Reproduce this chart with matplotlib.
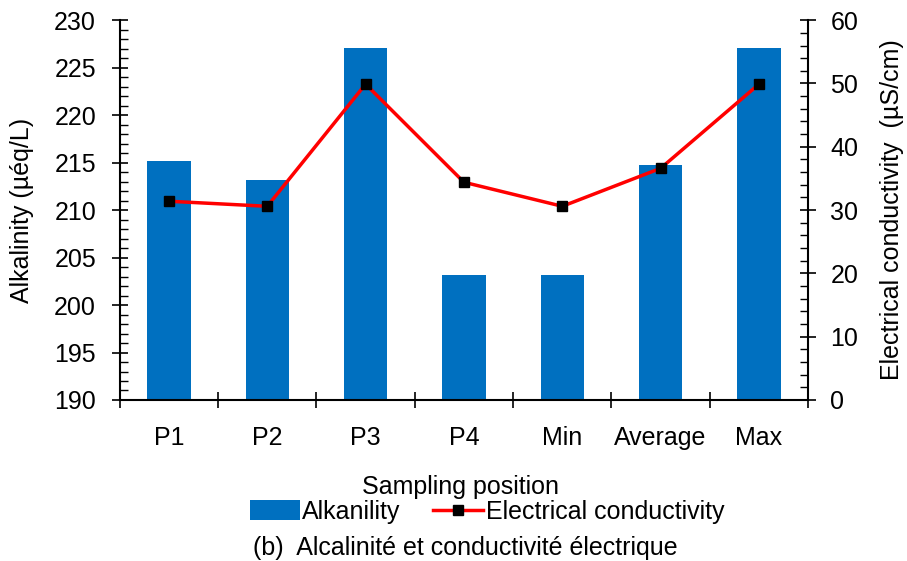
import numpy as np
import matplotlib
matplotlib.use("Agg")
import matplotlib.pyplot as plt
from matplotlib.ticker import MultipleLocator

plt.rcParams['font.family'] = ['Liberation Sans', 'DejaVu Sans']

# ---- data ----
positions = ["P1", "P2", "P3", "P4", "Min", "Average", "Max"]
alkalinity = [215.2, 213.2, 227.1, 203.2, 203.2, 214.7, 227.1]      # µéq/L
conductivity = [31.4, 30.6, 49.9, 34.4, 30.6, 36.6, 49.9]           # µS/cm

BLUE = "#0070C0"
FS = 18

fig = plt.figure(figsize=(9.07, 5.61), dpi=100)
ax = fig.add_axes([0.132, 0.287, 0.759, 0.677])
ax2 = ax.twinx()

x = np.arange(len(positions))
bars = ax.bar(x, alkalinity, width=0.44, color=BLUE, label="Alkanility", zorder=2)
line, = ax2.plot(x, conductivity, color="red", lw=2.5, marker="s", ms=7,
                 mfc="black", mec="black", label="Electrical conductivity", zorder=3)

ax.set_xlim(-0.5, len(positions) - 0.5)
ax.set_ylim(190, 230)
ax2.set_ylim(0, 60)

ax.yaxis.set_major_locator(MultipleLocator(5))
ax.yaxis.set_minor_locator(MultipleLocator(1))
ax2.yaxis.set_major_locator(MultipleLocator(10))
ax2.yaxis.set_minor_locator(MultipleLocator(2))

# category labels centred, ticks on the boundaries
ax.set_xticks(x)
ax.set_xticklabels(positions, fontsize=FS)
ax.set_xticks(np.arange(-0.5, len(positions)), minor=True)
ax.tick_params(axis="x", which="major", length=0, pad=19)
ax.tick_params(axis="x", which="minor", direction="inout", length=12, width=1.2)

ax.tick_params(axis="y", which="major", direction="inout", length=12, width=1.2,
               labelsize=FS, pad=11)
ax.tick_params(axis="y", which="minor", direction="in", length=6, width=1)
ax2.tick_params(axis="y", which="major", direction="inout", length=12, width=1.2,
                labelsize=FS, pad=10)
ax2.tick_params(axis="y", which="minor", direction="in", length=6, width=1)

for a in (ax, ax2):
    a.spines["top"].set_visible(False)
    for s in ("left", "right", "bottom"):
        a.spines[s].set_linewidth(1.5)
ax2.spines["left"].set_visible(False)
ax2.spines["bottom"].set_visible(False)
ax.spines["right"].set_visible(False)

ax.set_ylabel("Alkalinity (µéq/L)", fontsize=FS)
ax.yaxis.set_label_coords(-0.125, 0.5)
ax2.set_ylabel("Electrical conductivity  (µS/cm)", fontsize=FS, rotation=90)
ax2.yaxis.set_label_coords(1.105, 0.5)

fig.text(0.508, 0.132, "Sampling position", fontsize=FS, ha="center", va="center")
fig.legend(handles=[bars, line], loc="center", bbox_to_anchor=(0.537, 0.088),
           ncol=2, frameon=False, fontsize=FS, handlelength=2.0, handleheight=0.8,
           handletextpad=0.1, columnspacing=1.3, borderaxespad=0)
fig.text(0.513, 0.023, "(b)  Alcalinité et conductivité électrique", fontsize=FS,
         ha="center", va="center")

fig.savefig("out.png", dpi=100)
